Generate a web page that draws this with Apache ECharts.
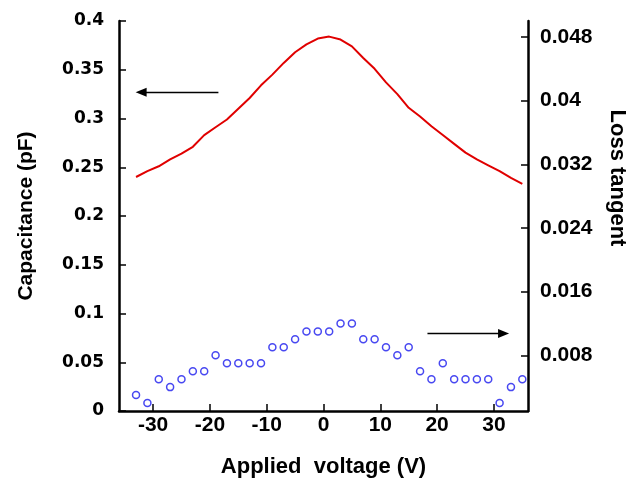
<!DOCTYPE html>
<html>
<head>
<meta charset="utf-8">
<script src="https://cdn.jsdelivr.net/npm/echarts@6/dist/echarts.min.js"></script>
<style>
html,body{margin:0;padding:0;background:#fff;}
#chart{width:639px;height:480px;}
</style>
</head>
<body>
<div id="chart"></div>
<script>
// Applied voltage (V)
const voltage = [-33,-31,-29,-27,-25,-23,-21,-19,-17,-15,-13,-11,-9,-7,-5,-3,-1,1,3,5,7,9,11,13,15,17,19,21,23,25,27,29,31,33,35];
// Capacitance (pF)
const capacitance = [0.240,0.246,0.251,0.258,0.264,0.271,0.283,0.291,0.299,0.310,0.321,0.334,0.345,0.357,0.368,0.376,0.382,0.384,0.381,0.374,0.362,0.351,0.337,0.325,0.311,0.302,0.292,0.283,0.274,0.265,0.258,0.252,0.246,0.239,0.233];
// Loss tangent
const lossTangent = [0.003,0.002,0.005,0.004,0.005,0.006,0.006,0.008,0.007,0.007,0.007,0.007,0.009,0.009,0.010,0.011,0.011,0.011,0.012,0.012,0.010,0.010,0.009,0.008,0.009,0.006,0.005,0.007,0.005,0.005,0.005,0.005,0.002,0.004,0.005];
// tick labels
const xTicks = [-30,-20,-10,0,10,20,30];
const rightTicks = [0.008,0.016,0.024,0.032,0.04,0.048];
// arrow annotations [fromX, toX, y (capacitance scale)]
const arrowLeft = [-18.5, -32.1, 0.3268];
const arrowRight = [18.3, 31.7, 0.0794];

const FONT = '"Liberation Sans", Arial, sans-serif';
const chart = echarts.init(document.getElementById('chart'), null, {renderer:'canvas'});

const axisLine = {show:true, onZero:false, lineStyle:{color:'#000', width:2.5}};
const tickStyle = {show:true, inside:true, length:7, lineStyle:{color:'#000', width:1.5}};
const labelStyle = {color:'#000', fontFamily:FONT, fontWeight:'bold', fontSize:21};
const nameStyle = {color:'#000', fontFamily:FONT, fontWeight:'bold', fontSize:21};

chart.setOption({
  animation:false,
  backgroundColor:'#fff',
  grid:{left:119, right:111, top:21, bottom:69, containLabel:false, outerBoundsMode:'none'},
  xAxis:{
    type:'value', min:-36, max:36,
    axisLine:axisLine,
    axisTick:Object.assign({}, tickStyle, {customValues:xTicks}),
    axisLabel:Object.assign({}, labelStyle, {customValues:xTicks, margin:4}),
    splitLine:{show:false},
    name:'Applied  voltage (V)', nameLocation:'middle', nameGap:45,
    nameTextStyle:Object.assign({}, nameStyle, {fontSize:22})
  },
  yAxis:[
    {
      type:'value', min:0, max:0.4, interval:0.05, position:'left',
      axisLine:axisLine, axisTick:tickStyle,
      axisLabel:Object.assign({}, labelStyle, {fontFamily:'"DejaVu Sans", sans-serif', fontSize:17, margin:15}),
      splitLine:{show:false},
      name:'Capacitance (pF)', nameLocation:'middle', nameGap:82,
      nameTextStyle:nameStyle
    },
    {
      type:'value', min:0.001, max:0.05, position:'right',
      axisLine:axisLine,
      axisTick:Object.assign({}, tickStyle, {customValues:rightTicks}),
      axisLabel:Object.assign({}, labelStyle, {customValues:rightTicks, margin:12, formatter:function(v){return String(+v.toFixed(3));}}),
      splitLine:{show:false},
      name:'Loss tangent', nameLocation:'middle', nameGap:78, nameRotate:-90,
      nameTextStyle:Object.assign({}, nameStyle, {fontSize:22, padding:[0,76,0,0]})
    }
  ],
  series:[
    {
      type:'line', yAxisIndex:0,
      data:voltage.map((v,i)=>[v, capacitance[i]]),
      showSymbol:false, symbol:'none',
      lineStyle:{color:'#e00000', width:2},
      markLine:{
        silent:true, symbol:['none','triangle'], symbolSize:[9,11],
        label:{show:false},
        lineStyle:{color:'#000', width:1.3, type:'solid'},
        data:[
          [{coord:[arrowLeft[0], arrowLeft[2]]},{coord:[arrowLeft[1], arrowLeft[2]]}],
          [{coord:[arrowRight[0], arrowRight[2]]},{coord:[arrowRight[1], arrowRight[2]]}]
        ]
      }
    },
    {
      type:'scatter', yAxisIndex:1,
      data:voltage.map((v,i)=>[v, lossTangent[i]]),
      symbol:'circle', symbolSize:7,
      itemStyle:{color:'rgba(255,255,255,0)', borderColor:'#1a1aee', borderWidth:1.5}
    }
  ]
});
</script>
</body>
</html>
